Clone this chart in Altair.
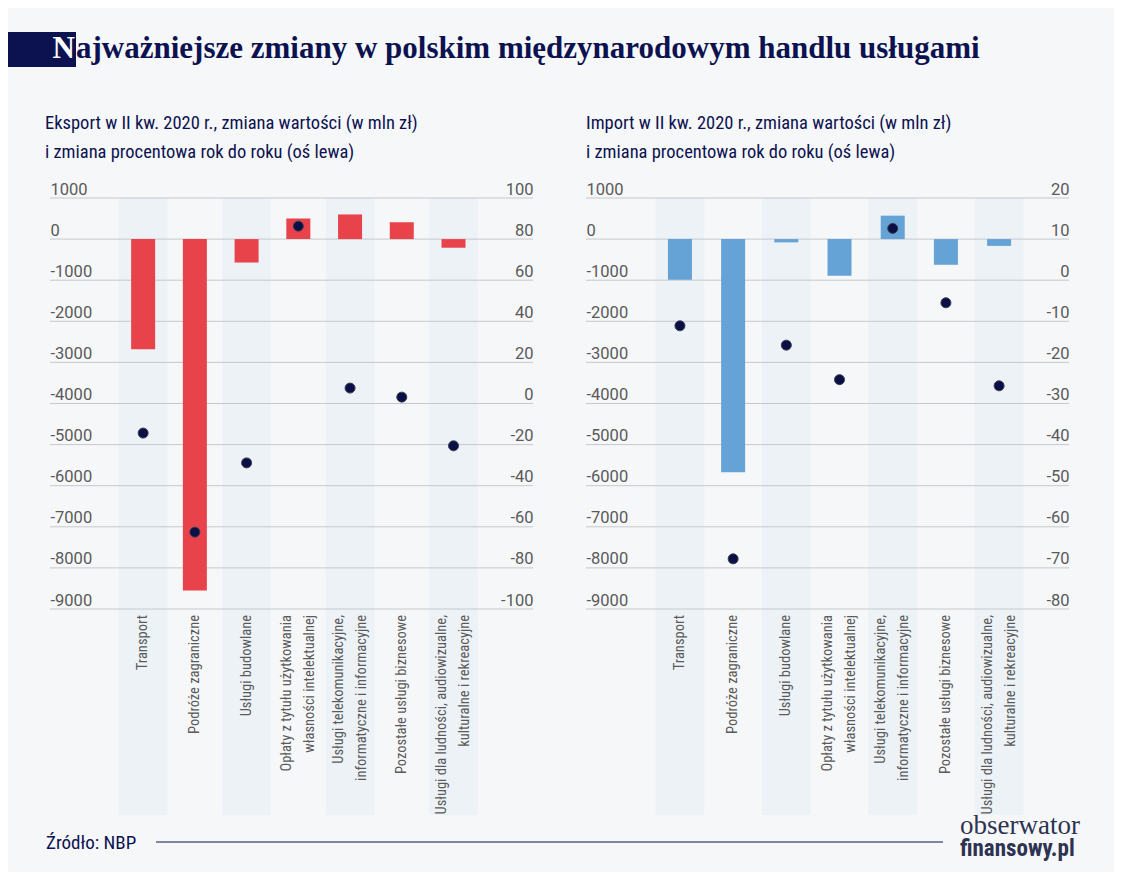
import altair as alt
import pandas as pd

# ---------------- data ----------------
categories = [
    "Transport",
    "Podróże zagraniczne",
    "Usługi budowlane",
    "Opłaty z tytułu użytkowania\nwłasności intelektualnej",
    "Usługi telekomunikacyjne,\ninformatyczne i informacyjne",
    "Pozostałe usługi biznesowe",
    "Usługi dla ludności, audiowizualne,\nkulturalne i rekreacyjne",
]
export_value = [-2680, -8550, -570, 500, 600, 410, -210]
export_pct = [-14.4, -62.6, -28.9, 86.3, 7.5, 3.1, -20.6]
import_value = [-990, -5670, -80, -890, 570, -625, -165]
import_pct = [-11.1, -67.8, -15.8, -24.2, 12.6, -5.5, -25.7]

value_ticks = [1000, 0, -1000, -2000, -3000, -4000, -5000, -6000, -7000, -8000, -9000]
export_pct_ticks = [100, 80, 60, 40, 20, 0, -20, -40, -60, -80, -100]
import_pct_ticks = [20, 10, 0, -10, -20, -30, -40, -50, -60, -70, -80]

title_text = "ajważniejsze zmiany w polskim międzynarodowym handlu usługami"
export_sub = ["Eksport w II kw. 2020 r., zmiana wartości (w mln zł)",
              "i zmiana procentowa rok do roku (oś lewa)"]
import_sub = ["Import w II kw. 2020 r., zmiana wartości (w mln zł)",
              "i zmiana procentowa rok do roku (oś lewa)"]
source_text = "Źródło: NBP"

# ---------------- style ----------------
BG = "#f6f7f9"
BAND = "#edf2f7"
NAVY = "#0c1250"
GRID = "#c6c8cd"
GREY = "#5a5a5a"
RED = "#e8434a"
BLUE = "#65a2d6"
DOT = "#0a0f45"
COND = "Liberation Sans Narrow, Roboto Condensed, Roboto, sans-serif"
SERIF = "Liberation Serif, DejaVu Serif, serif"
NUM = "Roboto, sans-serif"

W, H = 483, 411
one = pd.DataFrame({"k": [0]})


def axis(orient, ticks):
    return alt.Axis(
        orient=orient, values=ticks, grid=False, domain=False, ticks=False,
        tickSize=0, labelPadding=0, zindex=1,
        labelAlign="left" if orient == "left" else "right",
        labelBaseline="alphabetic", labelOffset=-4,
        labelFont=NUM, labelFontSize=16.5, labelColor=GREY,
        labelFlush=False, labelOverlap=False, labelBound=False,
        labelExpr="'' + datum.value", title=None,
    )


def panel(values, pcts, pct_ticks, color, subtitle, xdomain, half, sub_x):
    df = pd.DataFrame({"idx": list(range(len(categories))), "label": categories,
                       "value": values, "pct": pcts})
    base = alt.Chart(df)
    xs = alt.Scale(domain=xdomain, nice=False, zero=False)
    vscale = alt.Scale(domain=[-9000, 1000], nice=False, zero=False)
    pscale = alt.Scale(domain=[pct_ticks[-1], pct_ticks[0]], nice=False, zero=False)

    bands = base.transform_filter("datum.idx % 2 == 0").transform_calculate(
        x0=f"datum.idx - {half}", x1=f"datum.idx + {half}"
    ).mark_rect(color=BAND).encode(
        x=alt.X("x0:Q", scale=xs, axis=None), x2="x1:Q",
        y=alt.value(0), y2=alt.value(617),
    )
    grid = alt.Chart(pd.DataFrame({"tick": value_ticks})).mark_rule(
        color=GRID, strokeWidth=1
    ).encode(
        y=alt.Y("tick:Q", scale=vscale, axis=None),
        x=alt.value(0), x2=alt.value(W),
    )
    bars = base.mark_bar(color=color, size=24, orient="vertical").encode(
        x=alt.X("idx:Q", scale=xs, axis=None),
        y=alt.Y("value:Q", scale=vscale, axis=axis("left", value_ticks)),
        y2=alt.Y2(datum=0),
    )
    points = base.mark_point(filled=True, size=100, fill=DOT, stroke="#3a3d52",
                             strokeWidth=1, opacity=1).encode(
        x=alt.X("idx:Q", scale=xs, axis=None),
        y=alt.Y("pct:Q", scale=pscale, axis=axis("right", pct_ticks)),
    )
    split = base.transform_calculate(
        parts="split(datum.label, '\\n')"
    ).transform_calculate(
        n="length(datum.parts)", l1="datum.parts[0]",
        l2="length(datum.parts) > 1 ? datum.parts[1] : ''",
    )
    lab_kw = dict(angle=270, align="right", baseline="middle", font=COND,
                  fontSize=14.5, color=GREY)
    lab_enc = dict(x=alt.X("idx:Q", scale=xs, axis=None), y=alt.value(417))
    lab_single = split.transform_filter("datum.n == 1").mark_text(**lab_kw).encode(
        text="l1:N", **lab_enc)
    lab_first = split.transform_filter("datum.n > 1").mark_text(dy=-11.5, **lab_kw).encode(
        text="l1:N", **lab_enc)
    lab_second = split.transform_filter("datum.n > 1").mark_text(dy=11.5, **lab_kw).encode(
        text="l2:N", **lab_enc)
    sub = alt.Chart(one).mark_text(
        text=subtitle, align="left", baseline="alphabetic", font=COND,
        fontSize=18.5, color=NAVY, lineHeight=29,
    ).encode(x=alt.value(sub_x), y=alt.value(-69))
    return [bands, grid, bars, points, lab_single, lab_first, lab_second, sub]


# page decorations (drawn in the left panel's coordinates)
page = alt.Chart(one).mark_rect(color=BG).encode(
    x=alt.value(-42), x2=alt.value(1064), y=alt.value(-190), y2=alt.value(674))
nbox = alt.Chart(one).mark_rect(color=NAVY).encode(
    x=alt.value(-42), x2=alt.value(26), y=alt.value(-166), y2=alt.value(-131))
ntext = alt.Chart(one).mark_text(
    text="N", align="right", baseline="alphabetic", font=SERIF, fontWeight="bold",
    fontSize=31, color="white").encode(x=alt.value(25), y=alt.value(-140))
title = alt.Chart(one).mark_text(
    text=title_text, align="left", baseline="alphabetic", font=SERIF,
    fontWeight="bold", fontSize=31, color=NAVY).encode(x=alt.value(26), y=alt.value(-140))
source = alt.Chart(one).mark_text(
    text=source_text, align="left", baseline="alphabetic", font=COND, fontSize=19,
    color=NAVY).encode(x=alt.value(-4), y=alt.value(651))
srcline = alt.Chart(one).mark_rule(color=NAVY, strokeWidth=1.2).encode(
    x=alt.value(106), x2=alt.value(893), y=alt.value(644))
logo1 = alt.Chart(one).mark_text(
    text="obserwator", align="left", baseline="alphabetic", font=SERIF, fontSize=27,
    color="#2d3350").encode(x=alt.value(910), y=alt.value(636))
logo2 = alt.Chart(one).mark_text(
    text="finansowy.pl", align="left", baseline="alphabetic", font=COND, fontSize=23,
    fontWeight="bold", color="#2d3350").encode(x=alt.value(910), y=alt.value(658))

left_layers = panel(export_value, export_pct, export_pct_ticks, RED, export_sub,
                    [-1.704, 7.44], 0.47, -5)
left = alt.layer(page, *left_layers, nbox, ntext, title, source, srcline, logo1, logo2
                 ).resolve_scale(y="independent").properties(width=W, height=H)

right_layers = panel(import_value, import_pct, import_pct_ticks, BLUE, import_sub,
                     [-1.672, 7.22], 0.458, 0)
right = alt.layer(*right_layers).resolve_scale(y="independent").properties(width=W, height=H)

chart = alt.hconcat(left, right, spacing=53, bounds="flush").properties(
    padding=0, background=BG
).configure_view(stroke=None)

chart.save("out.html", embed_options={"renderer": "svg", "actions": False})
